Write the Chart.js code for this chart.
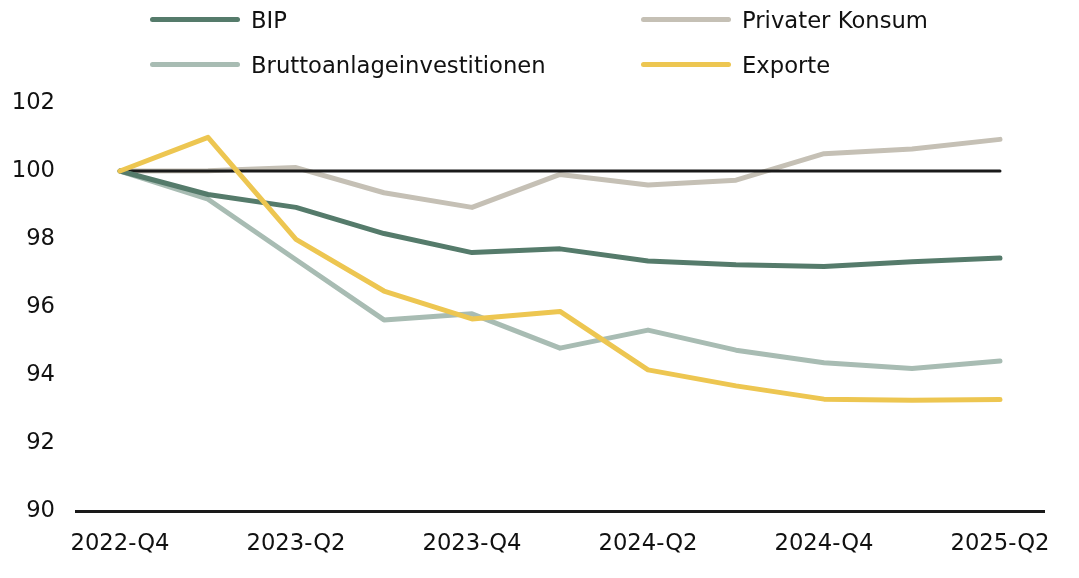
<!DOCTYPE html>
<html>
<head>
<meta charset="utf-8">
<script src="https://cdn.jsdelivr.net/npm/chart.js@4"></script>
<style>
    body { margin: 0; background: #fff; }
    #wrap { position: relative; width: 1079px; height: 578px; }
    #legend { position: absolute; left: 0; top: 0; width: 1079px; height: 90px; font-family: 'DejaVu Sans', sans-serif; font-size: 22.7px; color: #111; }
    .item { position: absolute; height: 30px; }
    .swatch { position: absolute; left: 0; width: 90px; height: 5px; border-radius: 3px; }
    .label { position: absolute; left: 101px; white-space: nowrap; line-height: 30px; top: 0px; }
</style>
</head>
<body>
<div id="wrap">
    <canvas id="chart" width="1079" height="578"></canvas>
    <div id="legend"></div>
</div>
<script>
const quarters = ['2022-Q4', '2023-Q1', '2023-Q2', '2023-Q3', '2023-Q4', '2024-Q1', '2024-Q2', '2024-Q3', '2024-Q4', '2025-Q1', '2025-Q2'];
const bip = [100, 99.31, 98.93, 98.16, 97.6, 97.71, 97.35, 97.24, 97.19, 97.33, 97.44];
const privaterKonsum = [100, 100.01, 100.1, 99.36, 98.93, 99.9, 99.59, 99.73, 100.51, 100.65, 100.93];
const brutto = [100, 99.17, 97.39, 95.62, 95.8, 94.79, 95.32, 94.73, 94.36, 94.19, 94.41];
const exporte = [100, 100.99, 97.99, 96.47, 95.65, 95.87, 94.15, 93.68, 93.29, 93.26, 93.28];
const baseline = [100, 100, 100, 100, 100, 100, 100, 100, 100, 100, 100];
const yTicks = [90, 92, 94, 96, 98, 100, 102];

const font = { family: 'DejaVu Sans', size: 22.7 };

function line(label, data, color, width) {
    return {
        label: label,
        data: data,
        borderColor: color,
        backgroundColor: color,
        borderWidth: width,
        pointRadius: 0,
        borderCapStyle: 'round',
        borderJoinStyle: 'round',
        tension: 0,
        fill: false
    };
}

// legend is plain html, two columns
const legendItems = [
    { label: 'BIP', color: '#557b6b', x: 150, y: 20 },
    { label: 'Privater Konsum', color: '#c5c0b5', x: 641, y: 20 },
    { label: 'Bruttoanlageinvestitionen', color: '#a8bcb3', x: 150, y: 65 },
    { label: 'Exporte', color: '#edc651', x: 641, y: 65 }
];
const legend = document.querySelector('#legend');
legendItems.forEach(item => {
    const div = document.createElement('div');
    div.className = 'item';
    div.style.left = item.x + 'px';
    div.style.top = (item.y - 15) + 'px';
    div.innerHTML = `<div class="swatch" style="background:${item.color};top:12px"></div><div class="label">${item.label}</div>`;
    legend.appendChild(div);
});

const ctx = document.querySelector('#chart').getContext('2d');
new Chart(ctx, {
    type: 'line',
    data: {
        labels: quarters,
        datasets: [
            line('Exporte', exporte, '#edc651', 5),
            line('BIP', bip, '#557b6b', 5),
            line('Bruttoanlageinvestitionen', brutto, '#a8bcb3', 5),
            line('100', baseline, '#1a1a1a', 3),
            line('Privater Konsum', privaterKonsum, '#c5c0b5', 5)
        ]
    },
    options: {
        responsive: false,
        animation: false,
        layout: { padding: { top: 103, right: 35, left: 0, bottom: 0 } },
        plugins: { legend: { display: false }, tooltip: { enabled: false } },
        scales: {
            x: {
                offset: true,
                grid: { display: false, drawTicks: false },
                border: { display: true, color: '#1a1a1a', width: 3 },
                ticks: {
                    autoSkip: false,
                    maxRotation: 0,
                    padding: 19,
                    color: '#111',
                    font: font,
                    callback: (val, i) => (i % 2 === 0 ? quarters[i] : '')
                },
                afterFit: scale => { scale.height = 67; }
            },
            y: {
                min: yTicks[0],
                max: yTicks[yTicks.length - 1],
                grid: { display: false, drawTicks: false },
                border: { display: false },
                afterBuildTicks: scale => { scale.ticks = yTicks.map(v => ({ value: v })); },
                ticks: { padding: 21, color: '#111', font: font },
                afterFit: scale => { scale.width = 76; }
            }
        }
    }
});
</script>
</body>
</html>
